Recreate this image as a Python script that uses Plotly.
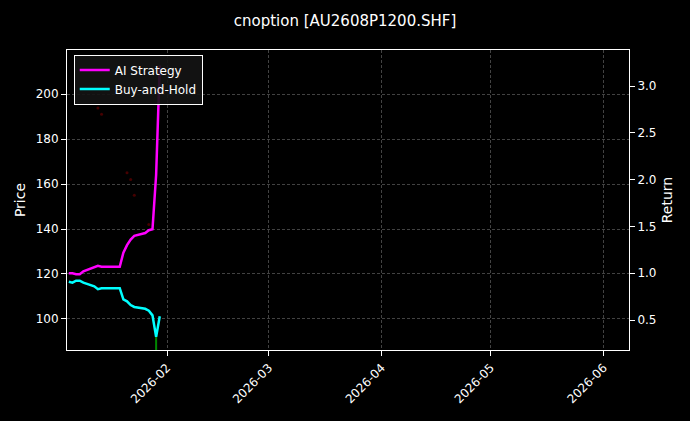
import plotly.graph_objects as go

dates = ["2026-01-05","2026-01-06","2026-01-07","2026-01-08","2026-01-09",
         "2026-01-12","2026-01-13","2026-01-14","2026-01-15","2026-01-16",
         "2026-01-19","2026-01-20","2026-01-21","2026-01-22","2026-01-23",
         "2026-01-26","2026-01-27","2026-01-28","2026-01-29","2026-01-30"]
ai_strategy = [1.0,1.0,0.99,0.99,1.02,1.06,1.08,1.07,1.07,1.07,1.07,1.22,1.30,1.36,1.40,1.43,1.46,1.47,2.05,3.22]
buy_hold = [0.91,0.90,0.92,0.92,0.90,0.86,0.83,0.84,0.84,0.84,0.84,0.72,0.70,0.66,0.64,0.62,0.60,0.55,0.32,0.54]
sell_dates = ["2026-01-13","2026-01-14","2026-01-21","2026-01-22","2026-01-23","2026-01-27"]
sell_prices = [193.8,191.0,165.0,162.0,155.0,142.0]
down_dates = ["2026-01-29","2026-01-29"]
down_prices = [92.0,80.0]

fig = go.Figure()
fig.add_trace(go.Scatter(x=sell_dates, y=sell_prices, mode="markers",
    marker=dict(color="rgba(200,0,0,0.35)", size=3), showlegend=False, yaxis="y"))
fig.add_trace(go.Scatter(x=down_dates, y=down_prices, mode="lines",
    line=dict(color="rgba(0,170,0,0.8)", width=2), showlegend=False, yaxis="y"))
fig.add_trace(go.Scatter(x=dates, y=ai_strategy, mode="lines", name="AI Strategy",
    line=dict(color="#ff00ff", width=2.5), yaxis="y2"))
fig.add_trace(go.Scatter(x=dates, y=buy_hold, mode="lines", name="Buy-and-Hold",
    line=dict(color="#00ffff", width=2.5), yaxis="y2"))

grid = dict(showgrid=True, gridcolor="rgba(120,120,120,0.55)", griddash="3px,2px", gridwidth=0.5)
fig.update_layout(
    width=690, height=421, paper_bgcolor="black", plot_bgcolor="black",
    font=dict(family="DejaVu Sans", color="white", size=12),
    title=dict(text="cnoption [AU2608P1200.SHF]", x=0.5, xanchor="center", y=0.962, font=dict(size=15)),
    margin=dict(l=67, r=61, t=50, b=71, autoexpand=False),
    xaxis=dict(range=["2026-01-04 12:00","2026-06-08"], tickangle=-45, tickformat="%Y-%m", automargin=False,
               tickvals=["2026-02-01","2026-03-01","2026-04-01","2026-05-01","2026-06-01"],
               showline=True, linecolor="white", mirror=True, ticks="outside", tickcolor="white", zeroline=False, **grid),
    yaxis=dict(title=dict(text="Price", standoff=6), range=[86.2,219.6], tickvals=[100,120,140,160,180,200], automargin=False,
               showline=True, linecolor="white", ticks="outside", tickcolor="white", zeroline=False, **grid),
    yaxis2=dict(title=dict(text="Return", standoff=6), range=[0.18,3.385], overlaying="y", side="right", automargin=False,
                tickvals=[0.5,1.0,1.5,2.0,2.5,3.0], tickformat=".1f",
                showline=True, linecolor="white", ticks="outside", tickcolor="white", showgrid=False, zeroline=False),
    legend=dict(x=0.012, y=0.985, xanchor="left", yanchor="top", bgcolor="rgba(20,20,20,0.9)",
                bordercolor="white", borderwidth=1, font=dict(size=12)),
)
fig.write_html("out.html", config={"displayModeBar": False},
               post_script="document.body.style.margin='0';document.body.style.background='black';")
